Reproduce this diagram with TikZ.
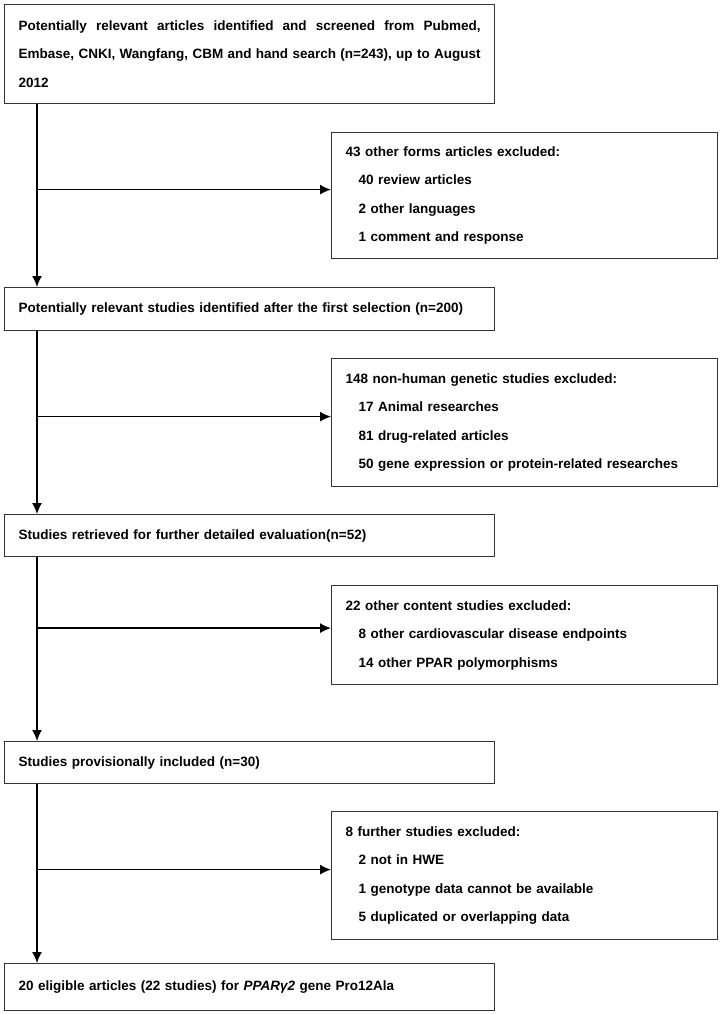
\documentclass[tikz,border=0pt]{standalone}
\usepackage{fontspec}
\setmainfont{Liberation Sans}
\usetikzlibrary{arrows.meta,positioning}

\begin{document}
\begin{tikzpicture}[x=1pt,y=-1pt,
	mainbox/.style={draw=black!80,line width=1.2pt,anchor=north west,inner xsep=14pt,inner ysep=0pt,
		text width=462pt,align=left,font=\fontsize{13.5}{28.5}\selectfont\bfseries},
	sidebox/.style={draw=black!80,line width=1.2pt,anchor=north west,inner xsep=14pt,inner ysep=0pt,
		text width=358pt,align=left,font=\fontsize{13.5}{28.5}\selectfont\bfseries},
	arr/.style={-{Latex[length=11pt,width=10pt]},line width=1.3pt}]
\useasboundingbox (0,0) rectangle (727,1014);

% main boxes
\node[mainbox,minimum height=99pt,align=justify] (search) at (4,4)
	{Potentially relevant articles identified and screened from Pubmed,\linebreak
	Embase, CNKI, Wangfang, CBM and hand search (n=243), up to August\linebreak 2012};
\node[mainbox,minimum height=43pt] (first) at (4,287)
	{Potentially relevant studies identified after the first selection (n=200)};
\node[mainbox,minimum height=42pt] (retr) at (4,514)
	{Studies retrieved for further detailed evaluation(n=52)};
\node[mainbox,minimum height=42pt] (prov) at (4,741)
	{Studies provisionally included (n=30)};
\node[mainbox,minimum height=47pt] (final) at (4,963)
	{20 eligible articles (22 studies) for \textit{PPARγ2} gene Pro12Ala};

% excluded boxes
\node[sidebox,minimum height=126pt] (excl1) at (331,132)
	{43 other forms articles excluded:\\
	\hspace*{13pt}40 review articles\\
	\hspace*{13pt}2 other languages\\
	\hspace*{13pt}1 comment and response};
\node[sidebox,minimum height=128pt] (excl2) at (331,358)
	{148 non-human genetic studies excluded:\\
	\hspace*{13pt}17 Animal researches\\
	\hspace*{13pt}81 drug-related articles\\
	\hspace*{13pt}50 gene expression or protein-related researches};
\node[sidebox,minimum height=99pt] (excl3) at (331,585)
	{22 other content studies excluded:\\
	\hspace*{13pt}8 other cardiovascular disease endpoints\\
	\hspace*{13pt}14 other PPAR polymorphisms};
\node[sidebox,minimum height=128pt] (excl4) at (331,811)
	{8 further studies excluded:\\
	\hspace*{13pt}2 not in HWE\\
	\hspace*{13pt}1 genotype data cannot be available\\
	\hspace*{13pt}5 duplicated or overlapping data};

% trunk
\draw[arr] ([xshift=33pt]search.south west) -- ([xshift=33pt]first.north west);
\draw[arr] ([xshift=33pt]first.south west) -- ([xshift=33pt]retr.north west);
\draw[arr] ([xshift=33pt]retr.south west) -- ([xshift=33pt]prov.north west);
\draw[arr] ([xshift=33pt]prov.south west) -- ([xshift=33pt]final.north west);

% branches
\draw[arr] ([xshift=33pt,yshift=6pt]search.south west |- excl1.west) -- ([yshift=6pt]excl1.west);
\draw[arr] ([xshift=33pt,yshift=6pt]first.south west |- excl2.west) -- ([yshift=6pt]excl2.west);
\draw[arr] ([xshift=33pt,yshift=7pt]retr.south west |- excl3.west) -- ([yshift=7pt]excl3.west);
\draw[arr] ([xshift=33pt,yshift=6pt]prov.south west |- excl4.west) -- ([yshift=6pt]excl4.west);

\end{tikzpicture}
\end{document}
